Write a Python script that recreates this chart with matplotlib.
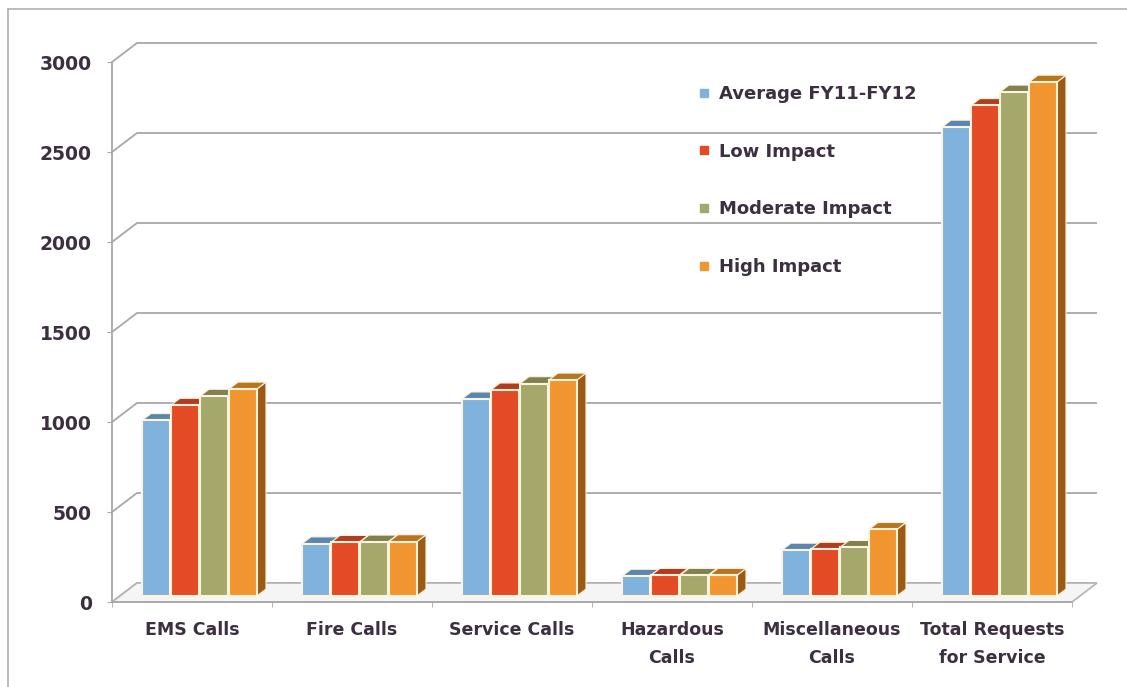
import matplotlib
matplotlib.use('Agg')
import matplotlib.pyplot as plt
from matplotlib.patches import Polygon
from matplotlib.lines import Line2D

# data
categories = ['EMS Calls', 'Fire Calls', 'Service Calls', 'Hazardous\nCalls',
              'Miscellaneous\nCalls', 'Total Requests\nfor Service']
series = ['Average FY11-FY12', 'Low Impact', 'Moderate Impact', 'High Impact']
avg = [975, 290, 1095, 110, 255, 2605]
low = [1060, 298, 1145, 115, 260, 2725]
moderate = [1110, 300, 1180, 115, 270, 2800]
high = [1150, 302, 1200, 115, 370, 2855]
yticks = [0, 500, 1000, 1500, 2000, 2500, 3000]

values = [avg, low, moderate, high]
front_col = ['#7fb3dd', '#e24b25', '#a4a86b', '#f1962f']
top_col = ['#5a87af', '#b33b1e', '#7f8150', '#b9741f']
side_col = ['#5a7f9f', '#a33a1c', '#6e7040', '#9b5a15']
txt_col = '#3b2f40'
grid_col = '#a8a8a8'

W, H = 1127, 687
fig = plt.figure(figsize=(W / 100, H / 100), dpi=100)
ax = fig.add_axes([112 / W, (H - 602) / H, 960 / W, 540 / H])
ax.set_xlim(0, len(categories))
ax.set_ylim(0, 3000)

# oblique "3d" offsets in data units (full depth of the plot box)
DX = 25 / 160
DY = 19 / 0.18
ZF = 0.32    # depth of bar front faces
DD = 0.36    # bar depth

# back wall grid + side wall edges
n = len(categories)
for v in yticks:
    ax.plot([0, DX, n + DX], [v, v + DY, v + DY], color=grid_col, lw=1.3,
            clip_on=False, zorder=1, solid_capstyle='butt')

# floor
floor = Polygon([(0, 0), (n, 0), (n + DX, DY), (DX, DY)], closed=True,
                facecolor='#f5f5f5', edgecolor='#b4b4b4', lw=1.2,
                clip_on=False, zorder=1.5)
ax.add_patch(floor)

# bars
step = 0.18125
bw = 0.175
for j, vals in enumerate(values):
    xs = [i + 0.5 - 2 * step + j * step + ZF * DX for i in range(n)]
    base = ZF * DY
    zo = 3 + j * 0.1
    for x, v in zip(xs, vals):
        xl, xr = x, x + bw
        yb, yt = base, base + v
        ax.add_patch(Polygon([(xr, yb), (xr + DD * DX, yb + DD * DY),
                              (xr + DD * DX, yt + DD * DY), (xr, yt)],
                             closed=True, facecolor=side_col[j],
                             edgecolor='#fff3dc', lw=0.8, zorder=zo,
                             clip_on=False))
        ax.add_patch(Polygon([(xl, yt), (xr, yt), (xr + DD * DX, yt + DD * DY),
                              (xl + DD * DX, yt + DD * DY)],
                             closed=True, facecolor=top_col[j],
                             edgecolor='#fff3dc', lw=0.8, zorder=zo + 0.01,
                             clip_on=False))
    ax.bar(xs, vals, bottom=base, width=bw, align='edge', color=front_col[j],
           edgecolor='#fff3dc', lw=1.5, zorder=zo + 0.02, clip_on=False)

# axes styling
for s in ['top', 'right']:
    ax.spines[s].set_visible(False)
ax.spines['left'].set_color(grid_col)
ax.spines['bottom'].set_color(grid_col)
ax.spines['left'].set_linewidth(1.3)
ax.spines['bottom'].set_linewidth(1.3)
ax.set_facecolor('none')

ax.set_yticks(yticks)
ax.set_yticklabels([str(t) for t in yticks], fontsize=13.5, fontweight='bold',
                   color=txt_col)
ax.tick_params(axis='y', length=3.6, color=grid_col, pad=11)

ax.set_xticks([i + 0.5 for i in range(n)])
ax.set_xticklabels(categories, fontsize=12.5, fontweight='bold', color=txt_col,
                   linespacing=1.65)
ax.set_xticks(range(n + 1), minor=True)
ax.tick_params(axis='x', which='major', length=0, pad=14)
ax.tick_params(axis='x', which='minor', length=3.6, color=grid_col)

# legend
handles = [Line2D([], [], marker='s', ls='none', color=c, markersize=6)
           for c in front_col]
leg = ax.legend(handles, series, loc='upper left',
                bbox_to_anchor=(690 / W, 1 - 76 / H),
                bbox_transform=fig.transFigure, frameon=False, borderpad=0,
                handlelength=0.6, handletextpad=0.5, labelspacing=2.2,
                prop={'size': 13, 'weight': 'bold'})
for t in leg.get_texts():
    t.set_color(txt_col)

# outer frame lines
fig.add_artist(Line2D([8 / W, 8 / W], [0, 1 - 9 / H], color='#b0b0b0', lw=1.2))
fig.add_artist(Line2D([8 / W, 1], [1 - 9 / H, 1 - 9 / H], color='#b0b0b0', lw=1.2))

fig.savefig('out.png', dpi=100)
